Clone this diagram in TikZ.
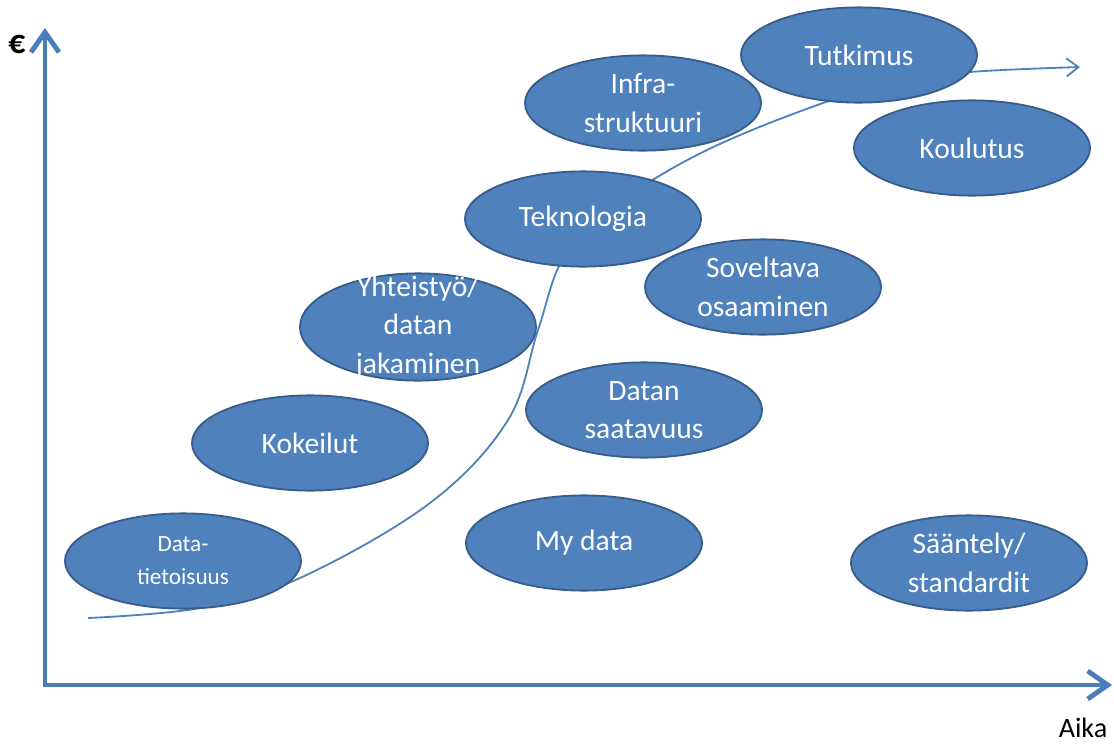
\documentclass[tikz,border=0pt]{standalone}
\usepackage{fontspec}
\setmainfont{Carlito}
\usepackage{tikz}
\usetikzlibrary{shapes, arrows.meta}
\definecolor{officesin}{HTML}{4F81BD}
\definecolor{reunasin}{HTML}{385D8A}
\definecolor{akselisin}{HTML}{4A7EBB}

\begin{document}
\begin{tikzpicture}[x=0.025cm, y=-0.025cm]
    \tikzstyle{pallo} = [ellipse, draw=reunasin, fill=officesin, line width=1.3pt,
                         minimum width=5.9cm, minimum height=2.38cm, inner sep=0pt]
    \tikzstyle{teksti} = [text=white, align=center, inner sep=0pt,
                          font=\fontsize{21}{27.5}\selectfont]
    \tikzstyle{akseli} = [draw=akselisin, line width=3.5pt,
                          {Straight Barb[length=5mm, width=7mm]}-{Straight Barb[length=5mm, width=7mm]}]

    \useasboundingbox (0,0) rectangle (1114,744);

    % kasvukayra ensin, pallot sen paalle
    \coordinate (alku) at (88,618);
    \coordinate (loppu) at (1080,67);
    \draw[officesin, line width=1.3pt, -{Straight Barb[length=3mm, width=4.5mm]}]
        plot[smooth, tension=0.6] coordinates {(alku) (200,608) (300,578) (430,503)
        (508,420) (538,330) (565,255) (620,202) (707,150)
        (823,103) (900,82) (970,72) (loppu)};

    % akselit
    \coordinate (ylos) at (45,28);
    \coordinate (oikealle) at (1112,685);
    \draw[akseli] (ylos) |- (oikealle);
    \node[font=\fontsize{24}{26}\selectfont\bfseries] (euro) at (17,44) {€};
    \node[font=\fontsize{20}{22}\selectfont] (aika) at (1083,728) {Aika};

    % pallot
    \node[pallo, label={[teksti, font=\fontsize{16.5}{23.5}\selectfont]center:Data-\\tietoisuus}] (tietoisuus) at (183,561) {};
    \node[pallo, label={[teksti]center:Kokeilut}] (kokeilut) at (310,443) {};
    \node[pallo, minimum height=2.68cm, label={[teksti]center:Yhteistyö/\\datan\\jakaminen}] (yhteistyo) at (418,327) {};
    \node[pallo, label={[teksti]center:Teknologia}] (teknologia) at (583,219) {};
    \node[pallo, label={[teksti]center:Infra-\\struktuuri}] (infra) at (643,103) {};
    \node[pallo, label={[teksti]center:Tutkimus}] (tutkimus) at (859,55) {};
    \node[pallo, label={[teksti]center:Koulutus}] (koulutus) at (972,148) {};
    \node[pallo, label={[teksti]center:Soveltava\\osaaminen}] (soveltava) at (763,287) {};
    \node[pallo, label={[teksti]center:Datan\\saatavuus}] (saatavuus) at (644,410) {};
    \node[pallo, label={[teksti]center:My data}] (mydata) at (584,543) {};
    \node[pallo, label={[teksti]center:Sääntely/\\standardit}] (saantely) at (969,563) {};
\end{tikzpicture}
\end{document}
